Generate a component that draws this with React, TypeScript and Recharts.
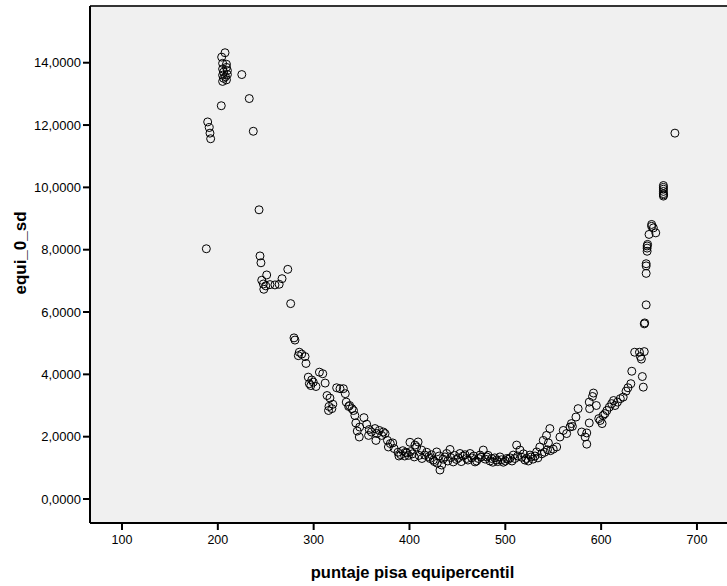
import { ScatterChart, Scatter, XAxis, YAxis, CartesianGrid, ReferenceLine } from 'recharts';

// puntaje pisa equipercentil (x) vs equi_0_sd (y)
const upperLeft: [number, number][] = [
  [207.5, 14.32], [204, 14.18], [205, 13.98], [209, 13.95], [205, 13.8], [209, 13.85],
  [206, 13.7], [210, 13.75], [205, 13.6], [210, 13.62], [206, 13.5], [209, 13.45],
  [205, 13.4], [208, 13.55], [225, 13.62], [203.6, 12.62], [232.8, 12.85],
  [189.4, 12.1], [191, 11.92], [191.8, 11.74], [192.5, 11.56], [237, 11.8],
  [243, 9.28], [188, 8.03], [244, 7.8], [245, 7.58], [273, 7.37], [251, 7.19],
  [245.8, 7.02], [247.5, 6.9], [250, 6.84], [254.4, 6.88], [259.6, 6.87], [264, 6.89],
  [267, 7.07], [248, 6.73], [276, 6.27],
];

const descending: [number, number][] = [
  [279.5, 5.17], [280.5, 5.1], [285, 4.71], [284, 4.6], [287.5, 4.65], [291, 4.57],
  [292, 4.35], [294.4, 3.91], [298, 3.82], [295.5, 3.7], [299.6, 3.75], [302.4, 3.61],
  [297, 3.64], [306, 4.07], [309.5, 4.02], [312, 3.72], [314, 3.32], [317, 3.24],
  [316, 2.97], [320, 3.04], [315.5, 2.84], [319, 2.9], [324, 3.57], [327.5, 3.54],
  [331, 3.54], [333, 3.38], [334, 3.11], [336.5, 2.97], [340, 2.9], [337.5, 3.0],
  [341.6, 2.84], [343, 2.68], [352.5, 2.61], [344, 2.44], [348, 2.31], [345.5, 2.18],
  [347.6, 1.99], [355.3, 2.4], [358, 2.23], [357.3, 2.04], [360.3, 2.15], [364, 2.26],
  [366, 2.1], [368.5, 2.2], [371, 2.04], [374.5, 2.1], [365, 1.88], [372.7, 2.15],
  [377, 1.88], [380, 1.78], [382.5, 1.8], [378, 1.67], [384, 1.62], [388, 1.5],
  [391, 1.42], [393, 1.55], [395, 1.38], [397, 1.48], [399, 1.4], [401, 1.52],
  [403, 1.45], [389, 1.38], [396, 1.5], [400.5, 1.82], [407.5, 1.67], [409, 1.83],
];

const trough: [number, number][] = [
  [405.7, 1.73], [412.7, 1.57], [416, 1.41], [421.4, 1.3], [424.9, 1.25], [431.8, 0.93],
  [433.6, 1.09], [428.4, 1.51], [442.3, 1.59], [445.7, 1.19], [438.8, 1.46], [452.7, 1.46],
  [459.7, 1.3], [463.2, 1.46], [468.4, 1.19], [473.6, 1.41], [477, 1.57], [480.6, 1.35],
  [485.8, 1.3], [491, 1.25], [494.4, 1.35], [501.4, 1.3], [508.3, 1.41], [511.8, 1.73],
  [515.3, 1.57], [520.5, 1.25], [525.7, 1.41], [532.7, 1.51],
  [405, 1.35], [410, 1.4], [413, 1.3], [418, 1.5], [420, 1.36], [423, 1.42], [426, 1.2],
  [429, 1.15], [431, 1.38], [435, 1.28], [437, 1.35], [440, 1.22], [443, 1.33], [447, 1.4],
  [449, 1.27], [451, 1.32], [454, 1.2], [456, 1.38], [458, 1.42], [461, 1.25], [465, 1.32],
  [467, 1.38], [470, 1.22], [472, 1.3], [475, 1.35], [479, 1.28], [482, 1.4], [484, 1.22],
  [487, 1.18], [489, 1.32], [492, 1.2], [496, 1.26], [498, 1.18], [500, 1.22], [503, 1.27],
  [505, 1.32], [507, 1.22], [510, 1.3], [513, 1.38], [517, 1.34], [519, 1.45], [522, 1.3],
  [524, 1.22], [527, 1.35], [529, 1.28], [531, 1.38], [534, 1.32], [538, 1.45], [541, 1.5],
  [544, 1.58],
];

const ascending: [number, number][] = [
  [536, 1.67], [539.6, 1.88], [543, 2.04], [546.5, 2.26], [553.6, 1.67], [557, 1.99],
  [560.5, 2.2], [564, 2.1], [550, 1.6], [547, 1.55], [545, 1.8], [567.5, 2.31],
  [569, 2.42], [570, 2.33], [573.7, 2.63], [576, 2.9], [579.7, 2.15], [583.3, 1.99],
  [585, 2.12], [585, 1.76], [587.6, 2.44], [587.6, 3.11], [588, 2.9], [591, 3.29],
  [592, 3.4], [595, 3.0], [597.5, 2.58], [599, 2.52], [601, 2.42], [602, 2.68],
  [604, 2.74], [606, 2.84], [608.6, 2.95], [611, 3.06], [613, 3.16], [614.5, 3.0],
  [617, 3.11], [620, 3.22], [623, 3.27], [626, 3.46], [628, 3.57], [631, 3.7],
  [632, 4.1], [643, 3.93], [644, 3.59], [635, 4.71], [640, 4.71], [645, 4.73],
  [641, 4.57], [642, 4.49],
];

const upperRight: [number, number][] = [
  [645, 5.62], [645.5, 5.65], [647, 6.23], [647, 7.24], [647, 7.48], [647, 7.55],
  [648, 7.95], [648, 8.05], [648, 8.12], [648.5, 8.17], [650, 8.49], [652.7, 8.81],
  [654.5, 8.7], [657, 8.54], [652.7, 8.75], [665, 9.72], [665, 9.8], [665, 9.87],
  [665, 9.94], [665, 10.0], [665, 10.06], [665.2, 9.76], [677, 11.74],
];

const xTicks = [100, 200, 300, 400, 500, 600, 700];
const yTicks = [0, 2, 4, 6, 8, 10, 12, 14];

const points = [...upperLeft, ...descending, ...trough, ...ascending, ...upperRight].map(
  ([x, y]) => ({ x, y })
);

const X_DOMAIN: [number, number] = [66.6, 739.7];
const Y_DOMAIN: [number, number] = [-0.77, 15.82];

const Ring = (props: any) => (
  <circle cx={props.cx} cy={props.cy} r={4} fill="none" stroke="#000" strokeWidth={1} />
);

// y title sits a little above the axis middle in the original
const YTitle = () => (
  <text
    x={20}
    y={253}
    transform="rotate(-90 20 253)"
    textAnchor="middle"
    dominantBaseline="central"
    fontSize={17}
    fontWeight="bold"
    fill="#000"
  >
    equi_0_sd
  </text>
);

export default function App() {
  return (
    <div
      style={{
        position: 'fixed',
        left: 0,
        top: 0,
        width: 727,
        height: 586,
        overflow: 'hidden',
        background: '#fff',
        fontFamily: '"Liberation Sans", Arial, sans-serif',
      }}
    >
      <ScatterChart width={740} height={586} margin={{ top: 6, right: 5, bottom: 0, left: 0 }}>
        <CartesianGrid fill="#F0F0F0" horizontal={false} vertical={false} />
        <ReferenceLine y={Y_DOMAIN[1]} stroke="#333" strokeWidth={2} />
        <XAxis
          type="number"
          dataKey="x"
          domain={X_DOMAIN}
          ticks={xTicks}
          allowDataOverflow
          height={63}
          tickSize={7}
          tickMargin={5}
          stroke="#000"
          strokeWidth={2}
          tick={{ fill: '#000', fontSize: 12.5 }}
          label={{
            value: 'puntaje pisa equipercentil',
            position: 'insideBottom',
            offset: 8,
            style: { fontSize: 16.5, fontWeight: 'bold', fill: '#000' },
          }}
        />
        <YAxis
          type="number"
          dataKey="y"
          domain={Y_DOMAIN}
          ticks={yTicks}
          allowDataOverflow
          width={90}
          tickSize={7}
          tickMargin={2}
          stroke="#000"
          strokeWidth={2}
          tick={{ fill: '#000', fontSize: 13 }}
          tickFormatter={(v: number) => v.toFixed(4).replace('.', ',')}
          label={{ content: YTitle }}
        />
        <Scatter data={points} shape={Ring} isAnimationActive={false} />
      </ScatterChart>
    </div>
  );
}
